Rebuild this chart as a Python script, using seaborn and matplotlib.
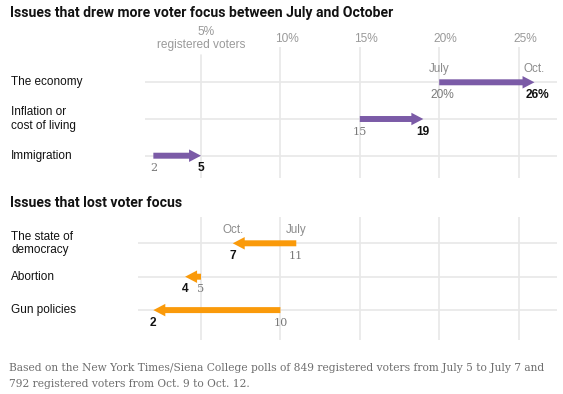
import numpy as np
import matplotlib
matplotlib.use("Agg")
import matplotlib.pyplot as plt
import seaborn as sns
from matplotlib import font_manager

# Datos
up_issues = ["The economy", "Inflation or\ncost of living", "Immigration"]
up_july = [20, 15, 2]
up_oct = [26, 19, 5]
up_suffix = ["%", "", ""]

down_issues = ["The state of\ndemocracy", "Abortion", "Gun policies"]
down_july = [11, 5, 10]
down_oct = [7, 4, 2]
down_suffix = ["", "", ""]

ticks = [5, 10, 15, 20, 25]
tick_labels = ["5%", "10%", "15%", "20%", "25%"]

title_up = "Issues that drew more voter focus between July and October"
title_down = "Issues that lost voter focus"
note = ("Based on the New York Times/Siena College polls of 849 registered voters from July 5 to July 7 and\n"
        "792 registered voters from Oct. 9 to Oct. 12.")

sns.set_theme(style="white")
purple, orange = sns.color_palette(["#7b5ba7", "#fa9a0a"])

installed = {f.name for f in font_manager.fontManager.ttflist}
def pick(*names):
    for n in names:
        if n in installed:
            return n
    return "DejaVu Sans"

sans = pick("Liberation Sans", "Arial", "DejaVu Sans")
narrow = pick("Liberation Sans Narrow", "DejaVu Sans Condensed", "Roboto", "Liberation Sans")
serif = pick("DejaVu Serif", "Liberation Serif")
plt.rcParams["font.family"] = [sans, "DejaVu Sans"]

W, H = 563, 394
fig = plt.figure(figsize=(W / 100, H / 100), dpi=100)
fig.patch.set_facecolor("white")

# escala x: 0% en 121.6 px, 15.88 px por punto
x0, kx = 121.6, 15.88
xmax = (W - x0) / kx
grid_c = "#e8e8e8"


def make_axes(top, bottom, row0, step):
    ax = fig.add_axes([x0 / W, 1 - bottom / H, (W - x0) / W, (bottom - top) / H])
    ax.set_xlim(0, xmax)
    ax.set_ylim(2 + (bottom - row0 - 2 * step) / step, -(row0 - top) / step)
    ax.set_xticks([])
    ax.set_yticks([])
    sns.despine(ax=ax, left=True, bottom=True)
    return ax


ax_up = make_axes(46.7, 178, 82.3, 36.7)
ax_dn = make_axes(216.7, 340, 243.3, 33.4)


def draw_panel(ax, issues, july, oct_, suffix, color, hstart, first_five_gap):
    for t in ticks:
        ymax = 1.0
        if t == 5 and first_five_gap:
            ymax = 1 - 8.3 / ax.bbox.height
        ax.axvline(t, ymax=ymax, color=grid_c, lw=1.2, zorder=0)
    ax.hlines(range(len(issues)), hstart, (556.7 - x0) / kx, color=grid_c, lw=1.2, zorder=0)

    for i, (lab, a, b, suf) in enumerate(zip(issues, july, oct_, suffix)):
        ax.text(-(x0 - 11) / (W - x0), i, lab, transform=ax.get_yaxis_transform(),
                ha="left", va="center", fontsize=8.5, color="#121212", linespacing=1.15)
        ax.annotate("", xy=(b, i), xytext=(a, i),
                    arrowprops=dict(arrowstyle="simple,head_width=9,head_length=8.6,tail_width=4.3",
                                    mutation_scale=1, fc=color, ec=color, lw=0,
                                    shrinkA=0, shrinkB=0), zorder=3)
        dx = 2.5 if suf else 0
        start_font = sans if suf else serif
        ax.annotate(f"{a}{suf}", xy=(a, i), xytext=(dx, -9.2), textcoords="offset points",
                    ha="center", va="center", fontsize=8.6 if suf else 8.1, color="#7a7a7a",
                    family=start_font)
        ax.annotate(f"{b}{suf}", xy=(b, i), xytext=(dx, -9.2), textcoords="offset points",
                    ha="center", va="center", fontsize=8.6, color="#111111",
                    fontweight="bold")
        if i == 0:
            ax.annotate("July", xy=(a, i), xytext=(0, 9.4), textcoords="offset points",
                        ha="center", va="center", fontsize=8.4, color="#8c8c8c")
            ax.annotate("Oct.", xy=(b, i), xytext=(0, 9.4), textcoords="offset points",
                        ha="center", va="center", fontsize=8.4, color="#8c8c8c")


draw_panel(ax_up, up_issues, up_july, up_oct, up_suffix, purple, (145 - x0) / kx, True)
draw_panel(ax_dn, down_issues, down_july, down_oct, down_suffix, orange, (138 - x0) / kx, False)

# etiquetas de eje superior
for t, lab in zip(ticks, tick_labels):
    if t == 5:
        ax_up.annotate(lab, xy=(t, 1), xycoords=("data", "axes fraction"), xytext=(3.5, 10.8),
                       textcoords="offset points", ha="center", va="center",
                       fontsize=8.6, color="#9a9a9a")
        ax_up.annotate("registered voters", xy=(t, 1), xycoords=("data", "axes fraction"),
                       xytext=(0, 1.2), textcoords="offset points", ha="center", va="center",
                       fontsize=8.6, color="#9a9a9a")
    else:
        ax_up.annotate(lab, xy=(t, 1), xycoords=("data", "axes fraction"), xytext=(4.7, 5.5),
                       textcoords="offset points", ha="center", va="center",
                       fontsize=8.6, color="#9a9a9a")

# titulos y nota
renderer = fig.canvas.get_renderer()


def fit(txt, target_px):
    w = txt.get_window_extent(renderer=renderer).width
    txt.set_fontsize(txt.get_fontsize() * target_px / w)


t1 = fig.text(10 / W, 1 - 12.5 / H, title_up, ha="left", va="center", fontsize=10,
              fontweight="bold", family=narrow, color="#121212")
fit(t1, 383)
t2 = fig.text(10 / W, 1 - 203.3 / H, title_down, ha="left", va="center",
              fontsize=t1.get_fontsize(), fontweight="bold", family=narrow, color="#121212")

n1, n2 = note.split("\n")
f1 = fig.text(9.3 / W, 1 - 368.3 / H, n1, ha="left", va="center", fontsize=8,
              family=serif, color="#6e6e6e")
fit(f1, 535)
fig.text(9.3 / W, 1 - 384.3 / H, n2, ha="left", va="center", fontsize=f1.get_fontsize(),
         family=serif, color="#6e6e6e")

fig.savefig("out.png", dpi=100, facecolor="white")
